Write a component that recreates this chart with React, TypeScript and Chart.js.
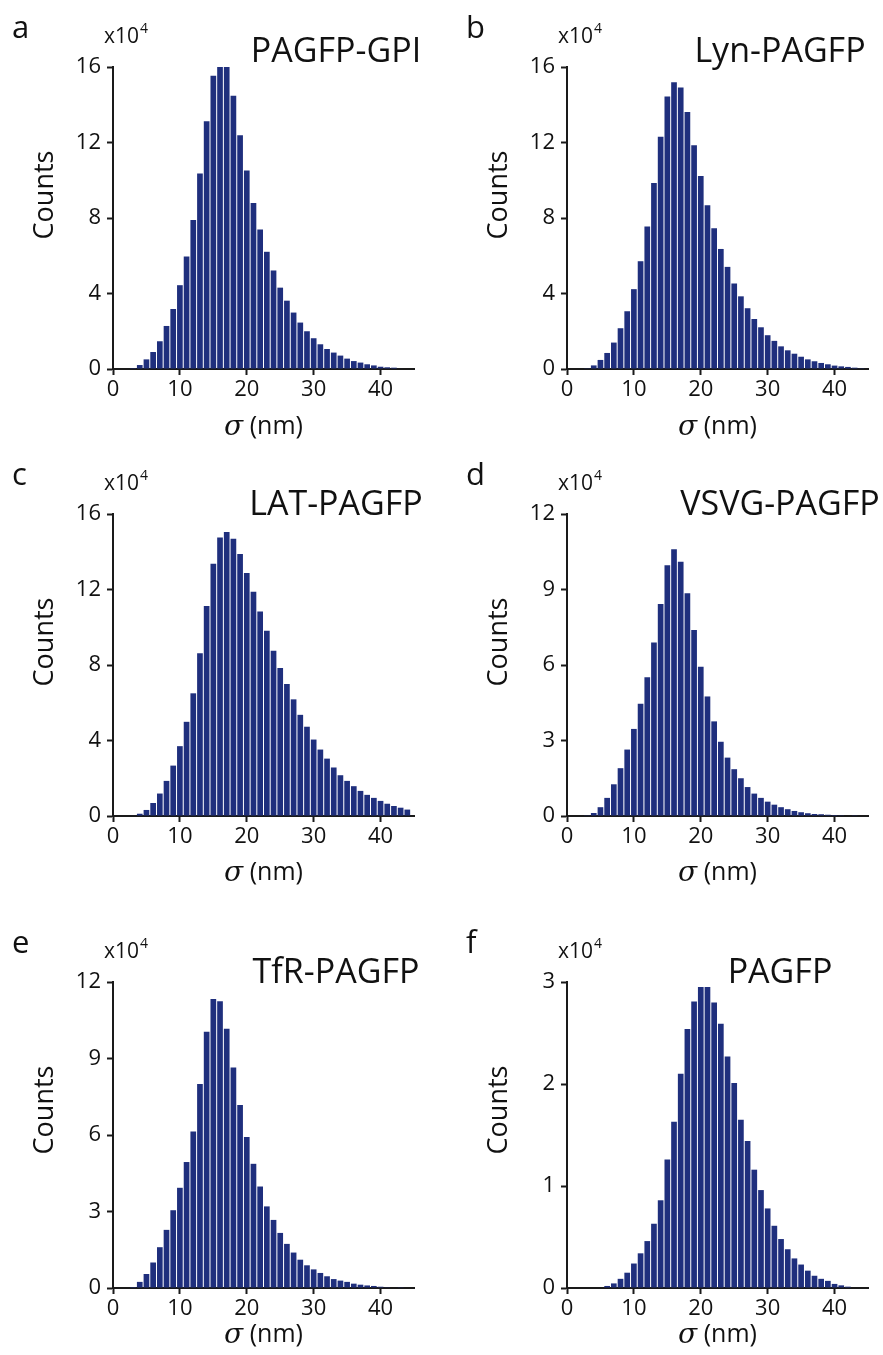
import React, { useEffect, useRef } from 'react';
import { Chart, registerables } from 'chart.js';

Chart.register(...registerables);

// ---------- DATA (counts in units of 10^4, bins of 1 nm centred at σ) ----------
const sigmaCenters = [
  1, 2, 3, 4, 5, 6, 7, 8, 9, 10, 11, 12, 13, 14, 15, 16, 17, 18, 19, 20, 21, 22,
  23, 24, 25, 26, 27, 28, 29, 30, 31, 32, 33, 34, 35, 36, 37, 38, 39, 40, 41, 42, 43, 44,
];

const gpiCounts = [
  0, 0, 0.05, 0.21, 0.51, 0.9, 1.47, 2.28, 3.18, 4.44, 5.96, 7.89, 10.36, 13.12, 15.54, 16.0, 16.0,
  14.48, 12.38, 10.52, 8.79, 7.39, 6.21, 5.22, 4.31, 3.62, 2.99, 2.46, 2.0, 1.63, 1.31, 1.06, 0.87,
  0.71, 0.55, 0.42, 0.34, 0.25, 0.19, 0.12, 0.09, 0.07, 0.03, 0,
];
const lynCounts = [
  0, 0, 0.04, 0.19, 0.48, 0.85, 1.4, 2.16, 3.06, 4.23, 5.71, 7.55, 9.85, 12.31, 14.44, 15.19, 14.92,
  13.61, 11.86, 10.22, 8.68, 7.46, 6.36, 5.41, 4.53, 3.85, 3.22, 2.65, 2.21, 1.79, 1.49, 1.2, 0.99,
  0.81, 0.65, 0.51, 0.41, 0.32, 0.25, 0.18, 0.14, 0.11, 0.07, 0.04,
];
const latCounts = [
  0, 0, 0.03, 0.12, 0.32, 0.69, 1.19, 1.86, 2.67, 3.7, 4.99, 6.5, 8.62, 11.13, 13.36, 14.76, 15.04,
  14.69, 13.88, 12.88, 11.88, 10.83, 9.81, 8.76, 7.84, 6.99, 6.18, 5.36, 4.73, 4.05, 3.52, 3.04, 2.57,
  2.16, 1.86, 1.58, 1.33, 1.12, 0.96, 0.8, 0.65, 0.53, 0.44, 0.34,
];
const vsvgCounts = [
  0, 0, 0.01, 0.12, 0.35, 0.72, 1.26, 1.9, 2.64, 3.46, 4.46, 5.51, 6.89, 8.42, 9.96, 10.6, 10.1,
  8.85, 7.39, 5.93, 4.75, 3.76, 2.95, 2.32, 1.86, 1.5, 1.15, 0.89, 0.72, 0.57, 0.45, 0.35, 0.27,
  0.2, 0.15, 0.11, 0.08, 0.07, 0.05, 0.04, 0.03, 0.02, 0.01, 0,
];
const tfrCounts = [
  0, 0, 0.04, 0.24, 0.55, 1.0, 1.6, 2.28, 3.05, 3.93, 4.94, 6.14, 8.0, 10.05, 11.33, 11.25, 10.17,
  8.65, 7.18, 5.92, 4.87, 3.98, 3.2, 2.67, 2.16, 1.73, 1.39, 1.11, 0.89, 0.73, 0.59, 0.46, 0.35,
  0.29, 0.24, 0.17, 0.13, 0.1, 0.08, 0.05, 0.03, 0.02, 0.01, 0,
];
const pagfpCounts = [
  0, 0, 0, 0, 0.005, 0.02, 0.045, 0.09, 0.15, 0.24, 0.34, 0.46, 0.63, 0.86, 1.26, 1.63, 2.1, 2.54,
  2.81, 2.95, 2.95, 2.8, 2.59, 2.27, 2.01, 1.65, 1.44, 1.16, 0.96, 0.78, 0.61, 0.48, 0.38, 0.29,
  0.23, 0.17, 0.12, 0.09, 0.07, 0.04, 0.026, 0.013, 0.005, 0,
];

const panelLetters = ['a', 'b', 'c', 'd', 'e', 'f'];
const panelTitles = ['PAGFP-GPI', 'Lyn-PAGFP', 'LAT-PAGFP', 'VSVG-PAGFP', 'TfR-PAGFP', 'PAGFP'];
const panelSeries = [gpiCounts, lynCounts, latCounts, vsvgCounts, tfrCounts, pagfpCounts];
const yMaxes = [16, 16, 16, 12, 12, 3];
const yStepSizes = [4, 4, 4, 3, 3, 1];
const xTickStep = 10;
const xMin = 0;
const xMax = 45;
const yLabel = 'Counts';
const xLabelUnit = ' (nm)';
const xLabelSymbol = 'σ';
const scaleNote = 'x10';
const scaleExp = '4';

// ---------- LAYOUT ----------
const COL_X = [0, 441];
const COL_W = [441, 442];
const ROW_Y = [0, 447, 915];
const ROW_H = [447, 468, 440];
const PLOT_LEFT = [113, 567];
const PLOT_W = 301;
const PLOT_TOP = [67, 514, 982];
const PLOT_H = [302, 302, 306];
const TITLE_CX = [336, 780];
const TITLE_DY = [-5, 1, 1];
const XLABEL_DY = [58, 57, 47];

const Y_AXIS_W = 60;
const X_AXIS_H = 40;

const FONT = '"Open Sans", "Noto Sans", sans-serif';
const BAR_COLOR = '#1f2f7d';
const AXIS_COLOR = '#1a1a1a';
const TEXT_COLOR = '#111111';

function Panel({ index }: { index: number }) {
  const ref = useRef<HTMLCanvasElement | null>(null);
  const col = index % 2;
  const row = Math.floor(index / 2);
  const cellX = COL_X[col];
  const cellY = ROW_Y[row];
  const cellW = COL_W[col];
  const cellH = ROW_H[row];

  useEffect(() => {
    const canvas = ref.current;
    if (!canvas) return;
    const plotL = PLOT_LEFT[col] - cellX;
    const plotT = PLOT_TOP[row] - cellY;
    const plotB = plotT + PLOT_H[row];
    const plotR = plotL + PLOT_W;

    const textPlugin = {
      id: 'panelText' + index,
      afterDraw(chart: any) {
        const ctx = chart.ctx as CanvasRenderingContext2D;
        const ca = chart.chartArea;
        ctx.save();
        ctx.fillStyle = TEXT_COLOR;
        ctx.textBaseline = 'alphabetic';
        // panel letter
        ctx.font = `31px ${FONT}`;
        ctx.textAlign = 'left';
        ctx.fillText(panelLetters[index], ca.left - 101, ca.top - 29);
        // x10^4
        ctx.font = `21px ${FONT}`;
        const bx = ca.left - 9;
        const by = ca.top - 24;
        ctx.fillText(scaleNote, bx, by);
        const w = ctx.measureText(scaleNote).width;
        ctx.font = `14px ${FONT}`;
        ctx.fillText(scaleExp, bx + w + 1, by - 10);
        // title
        ctx.font = `34px ${FONT}`;
        ctx.textAlign = 'center';
        ctx.fillText(panelTitles[index], TITLE_CX[col] - cellX, ca.top + TITLE_DY[row]);
        // y label
        ctx.save();
        ctx.translate(ca.left - 68, ca.top + 128);
        ctx.rotate(-Math.PI / 2);
        ctx.font = `27px ${FONT}`;
        ctx.textAlign = 'center';
        ctx.textBaseline = 'middle';
        ctx.fillText(yLabel, 0, 0);
        ctx.restore();
        // x label
        ctx.textBaseline = 'middle';
        ctx.textAlign = 'left';
        const italicFont = `italic 28px "DejaVu Serif", serif`;
        const unitFont = `25px ${FONT}`;
        ctx.font = italicFont;
        const sw = ctx.measureText(xLabelSymbol).width;
        ctx.font = unitFont;
        const uw = ctx.measureText(xLabelUnit).width;
        const cx = (ca.left + ca.right) / 2;
        const cy = ca.bottom + XLABEL_DY[row];
        const startX = cx - (sw + uw) / 2;
        ctx.font = italicFont;
        ctx.fillText(xLabelSymbol, startX, cy + 1);
        ctx.font = unitFont;
        ctx.fillText(xLabelUnit, startX + sw, cy);
        ctx.restore();
      },
    };

    const values = panelSeries[index];
    const chart = new Chart(canvas, {
      type: 'bar',
      data: {
        datasets: [
          {
            data: sigmaCenters.map((s, i) => ({ x: s, y: values[i] })),
            backgroundColor: BAR_COLOR,
            borderWidth: 0,
            categoryPercentage: 1,
            barPercentage: 0.85,
          },
        ],
      },
      options: {
        responsive: false,
        animation: false,
        devicePixelRatio: 1,
        layout: {
          padding: {
            left: plotL - Y_AXIS_W,
            top: plotT,
            right: cellW - plotR,
            bottom: cellH - plotB - X_AXIS_H,
          },
        },
        plugins: {
          legend: { display: false },
          tooltip: { enabled: false },
          title: { display: false },
        },
        scales: {
          x: {
            type: 'linear',
            min: xMin,
            max: xMax,
            offset: false,
            afterFit: (s: any) => {
              s.height = X_AXIS_H;
            },
            grid: {
              display: true,
              drawOnChartArea: false,
              drawTicks: true,
              offset: false,
              tickLength: 6,
              tickWidth: 2,
              tickColor: AXIS_COLOR,
              color: AXIS_COLOR,
            },
            border: { display: true, color: AXIS_COLOR, width: 2 },
            ticks: {
              stepSize: xTickStep,
              includeBounds: false,
              autoSkip: false,
              maxRotation: 0,
              padding: 2,
              color: TEXT_COLOR,
              font: { family: FONT, size: 22 },
            },
          },
          y: {
            type: 'linear',
            min: 0,
            max: yMaxes[index],
            afterFit: (s: any) => {
              s.width = Y_AXIS_W;
            },
            grid: {
              display: true,
              drawOnChartArea: false,
              drawTicks: true,
              tickLength: 6,
              tickWidth: 2,
              tickColor: AXIS_COLOR,
              color: AXIS_COLOR,
            },
            border: { display: true, color: AXIS_COLOR, width: 2 },
            ticks: {
              stepSize: yStepSizes[index],
              includeBounds: false,
              padding: 6,
              color: TEXT_COLOR,
              font: { family: FONT, size: 22 },
            },
          },
        },
      },
      plugins: [textPlugin],
    } as any);
    return () => chart.destroy();
  }, [index]);

  return (
    <canvas
      ref={ref}
      width={cellW}
      height={cellH}
      style={{ position: 'absolute', left: cellX, top: cellY, width: cellW, height: cellH }}
    />
  );
}

export default function App() {
  return (
    <div
      style={{
        position: 'absolute',
        left: 0,
        top: 0,
        width: 883,
        height: 1355,
        background: '#ffffff',
        overflow: 'hidden',
      }}
    >
      {panelSeries.map((_, i) => (
        <Panel key={i} index={i} />
      ))}
    </div>
  );
}
